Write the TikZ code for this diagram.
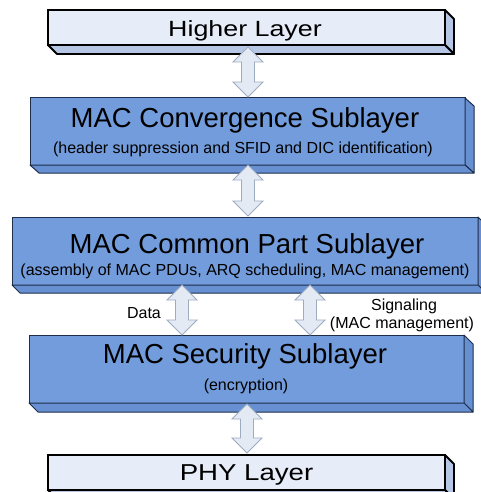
\documentclass[tikz,border=0pt]{standalone}
\usepackage{fontspec}
\setmainfont{Liberation Sans}
\usetikzlibrary{calc}
\definecolor{lightfill}{HTML}{E6ECF8}
\definecolor{lightside}{HTML}{B6C7E6}
\definecolor{bluefill}{HTML}{729CDB}
\definecolor{blueside}{HTML}{6690D2}
\definecolor{blueedge}{HTML}{1E2D4A}
\definecolor{arrfill}{HTML}{E4EAF4}
\definecolor{arredge}{HTML}{9EACC2}
\tikzset{
  lightbox/.style={draw=black, line width=1.8pt, fill=lightfill, inner sep=0pt, outer sep=0pt},
  lightface/.style={draw=black, line width=1.8pt, fill=lightside, line join=round},
  bluebox/.style={draw=blueedge, line width=1pt, fill=bluefill, inner sep=0pt, outer sep=0pt},
  blueface/.style={draw=blueedge, line width=1pt, fill=blueside, line join=round},
  bigtext/.style={font=\fontsize{27.5}{30}\selectfont, anchor=base, inner sep=0pt},
  smalltext/.style={font=\fontsize{16}{18}\selectfont, anchor=base, inner sep=0pt},
  arrowbody/.style={draw=arredge, line width=0.8pt, fill=arrfill, line join=miter}
}
% 3D faces: #1 node name, #2 dx, #3 dy, #4 style
\newcommand\boxdepth[4]{%
  \draw[#4] (#1.north east) -- ++(#2,#3) -- ($(#1.south east)+(#2,#3)$) -- (#1.south east) -- cycle;
  \draw[#4] (#1.south west) -- ++(#2,#3) -- ($(#1.south east)+(#2,#3)$) -- (#1.south east) -- cycle;
}
% double block arrow between two named coordinates (top tip, bottom tip)
\newcommand\dblarrow[2]{%
  \draw[arrowbody] let \p1=(#1), \p2=(#2) in
    (\x1,\y1) -- (\x1+15pt,\y1-15pt) -- (\x1+6.5pt,\y1-15pt) -- (\x1+6.5pt,\y2+15pt)
    -- (\x1+15pt,\y2+15pt) -- (\x1,\y2) -- (\x1-15pt,\y2+15pt) -- (\x1-6.5pt,\y2+15pt)
    -- (\x1-6.5pt,\y1-15pt) -- (\x1-15pt,\y1-15pt) -- cycle;
}
\begin{document}
\begin{tikzpicture}[x=1pt,y=-1pt]
\useasboundingbox (0,0) rectangle (480,492);
\fill[white] (0,0) rectangle (480,492);

% boxes (front faces)
\node[lightbox, minimum width=397pt, minimum height=35pt] (hl) at (246.5,27.5) {};
\node[bluebox, minimum width=435pt, minimum height=67pt] (conv) at (247.5,131.5) {};
\node[bluebox, minimum width=466pt, minimum height=68pt] (cps) at (245,251) {};
\node[bluebox, minimum width=435pt, minimum height=68pt] (sec) at (246.5,369) {};
\node[lightbox, minimum width=397pt, minimum height=35pt] (phy) at (246.5,472.5) {};

\boxdepth{hl}{9}{9}{lightface}
\boxdepth{conv}{9}{8}{blueface}
\boxdepth{cps}{8}{8}{blueface}
\boxdepth{sec}{9}{9}{blueface}
\boxdepth{phy}{9}{9}{lightface}

% texts
\node[font=\fontsize{22}{24}\selectfont, anchor=base, inner sep=0pt] (hlt) at (245,37) {\scalebox{1.22}[1]{Higher Layer}};
\node[bigtext] (convt) at (245,128) {MAC Convergence Sublayer};
\node[smalltext] (convs) at (243,153) {(header suppression and SFID and DIC identification)};
\node[bigtext] (cpst) at (247,253) {MAC Common Part Sublayer};
\node[smalltext] (cpss) at (245,275) {(assembly of MAC PDUs, ARQ scheduling, MAC management)};
\node[bigtext] (sect) at (245,363) {MAC Security Sublayer};
\node[smalltext] (secs) at (246,390) {(encryption)};
\node[font=\fontsize{23}{25}\selectfont, anchor=base, inner sep=0pt] (phyt) at (246.5,480) {\scalebox{1.2}[1]{PHY Layer}};
\node[smalltext] (data) at (144,318) {Data};
\node[smalltext] (sig1) at (404,310) {Signaling};
\node[smalltext] (sig2) at (402,328) {(MAC management)};

% connector coordinates
\coordinate (a1t) at ($(hl.south)+(1.5,2)$);
\coordinate (a1b) at ($(conv.north)+(0.5,-1)$);
\coordinate (a2t) at ($(conv.south)+(0.5,0)$);
\coordinate (a2b) at ($(cps.north)+(3,-1)$);
\coordinate (a3t) at ($(cps.south west)+(170,0)$);
\coordinate (a3b) at ($(sec.north west)+(153,0)$);
\coordinate (a4t) at ($(cps.south west)+(298,0)$);
\coordinate (a4b) at ($(sec.north west)+(281,0)$);
\coordinate (a5t) at ($(sec.south)+(0.5,1)$);
\coordinate (a5b) at ($(phy.north)+(0.5,-2)$);

\dblarrow{a1t}{a1b}
\dblarrow{a2t}{a2b}
\dblarrow{a3t}{a3b}
\dblarrow{a4t}{a4b}
\dblarrow{a5t}{a5b}
\end{tikzpicture}
\end{document}
